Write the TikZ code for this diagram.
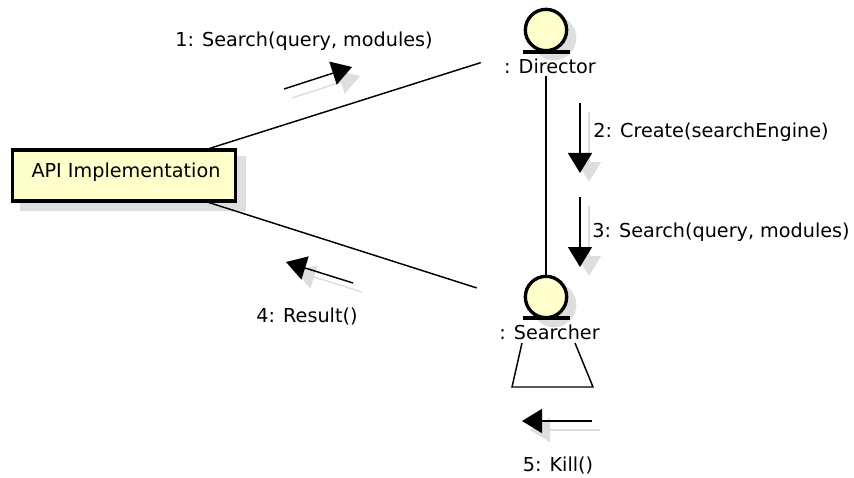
\documentclass[tikz,border=0pt]{standalone}
\usepackage{fontspec}
\setmainfont{DejaVu Sans}
\usepackage{xcolor}
\usetikzlibrary{arrows.meta}
\definecolor{notefill}{HTML}{FFFFCC}
\definecolor{shade}{HTML}{DEDEDE}
\tikzset{
    objbox/.style={draw, line width=2.5pt, fill=notefill, minimum width=167pt, minimum height=38pt, inner sep=0pt},
    objshade/.style={draw=shade, fill=shade, line width=2.5pt, minimum width=167pt, minimum height=38pt, inner sep=0pt},
    acthead/.style={draw, circle, line width=2.5pt, fill=notefill, inner sep=0pt, minimum size=31pt},
    actshade/.style={draw=shade, fill=shade, circle, line width=2.5pt, inner sep=0pt, minimum size=31pt},
    actframe/.style={inner sep=0pt, minimum height=#1},
    msg/.style={font=\fontsize{14.4pt}{16pt}\selectfont, inner sep=0pt},
    link/.style={line width=1.1pt},
    foot/.style={line width=2.5pt},
    flow/.style={line width=1.1pt, -{Triangle[length=15pt,width=18pt]}},
    flowshade/.style={draw=shade, line width=1.1pt, -{Triangle[length=15pt,width=18pt]}}
}
\begin{document}
\begin{tikzpicture}[x=0.75pt,y=-0.75pt]
\useasboundingbox (0,0) rectangle (854,478);

%shadows
\node[objshade] (apishade) at (133,183.5) {};
\node[actshade] (dirshade) at (554,38) {};
\node[actshade] (seashade) at (554,305) {};

\coordinate (a1) at (284,89);
\coordinate (b1) at (352,67);
\coordinate (a1s) at (292,98);
\coordinate (b1s) at (360,76);
\coordinate (a2) at (580,103);
\coordinate (b2) at (580,173);
\coordinate (a2s) at (589,112);
\coordinate (b2s) at (589,182);
\coordinate (a3) at (580,197);
\coordinate (b3) at (580,267);
\coordinate (a3s) at (589,206);
\coordinate (b3s) at (589,276);
\coordinate (a4) at (353,283);
\coordinate (b4) at (286,262);
\coordinate (a4s) at (362,292);
\coordinate (b4s) at (295,271);
\coordinate (a5) at (592,421);
\coordinate (b5) at (522,421);
\coordinate (a5s) at (600,430);
\coordinate (b5s) at (530,430);

\draw[flowshade] (a1s) -- (b1s);
\draw[flowshade] (a2s) -- (b2s);
\draw[flowshade] (a3s) -- (b3s);
\draw[flowshade] (a4s) -- (b4s);
\draw[flowshade] (a5s) -- (b5s);

%objects
\node[actframe=51pt, minimum width=97.5pt] (director) at (546,42) {};
\node[actframe=52.5pt, minimum width=103.5pt] (searcher) at (546,310) {};
\node[objbox] (api) at (124,175.5) {};

%draw lines
\draw[link] (api) -- (director);
\draw[link] (api) -- (searcher);
\draw[link] (director) -- (searcher);

\node[objbox] (apibox) at (124,175.5) {};
\node[msg] (apitext) at (126,172) {API Implementation};

\node[acthead] (dirhead) at (546,30) {};
\node[acthead] (seahead) at (546,297) {};
\coordinate (f1) at (523,52);
\coordinate (f2) at (570,52);
\coordinate (f3) at (523,318);
\coordinate (f4) at (570,318);
\draw[foot] (f1) -- (f2);
\draw[foot] (f3) -- (f4);

%self link
\coordinate (k1) at (522,343);
\coordinate (k2) at (512,387);
\coordinate (k3) at (593,387);
\coordinate (k4) at (575,343);
\draw[link] (k1) -- (k2) -- (k3) -- (k4);

%messages
\draw[flow] (a1) -- (b1);
\draw[flow] (a2) -- (b2);
\draw[flow] (a3) -- (b3);
\draw[flow] (a4) -- (b4);
\draw[flow] (a5) -- (b5);

%labeling
\node[msg] (dirtext) at (550,66) {: Director};
\node[msg] (seatext) at (549.5,332) {: Searcher};
\node[msg] (m1) at (304,41) {1: Search(query, modules)};
\node[msg] (m2) at (711,132) {2: Create(searchEngine)};
\node[msg] (m3) at (721,232) {3: Search(query, modules)};
\node[msg] (m4) at (307,316) {4: Result()};
\node[msg] (m5) at (558,465) {5: Kill()};
\end{tikzpicture}
\end{document}
